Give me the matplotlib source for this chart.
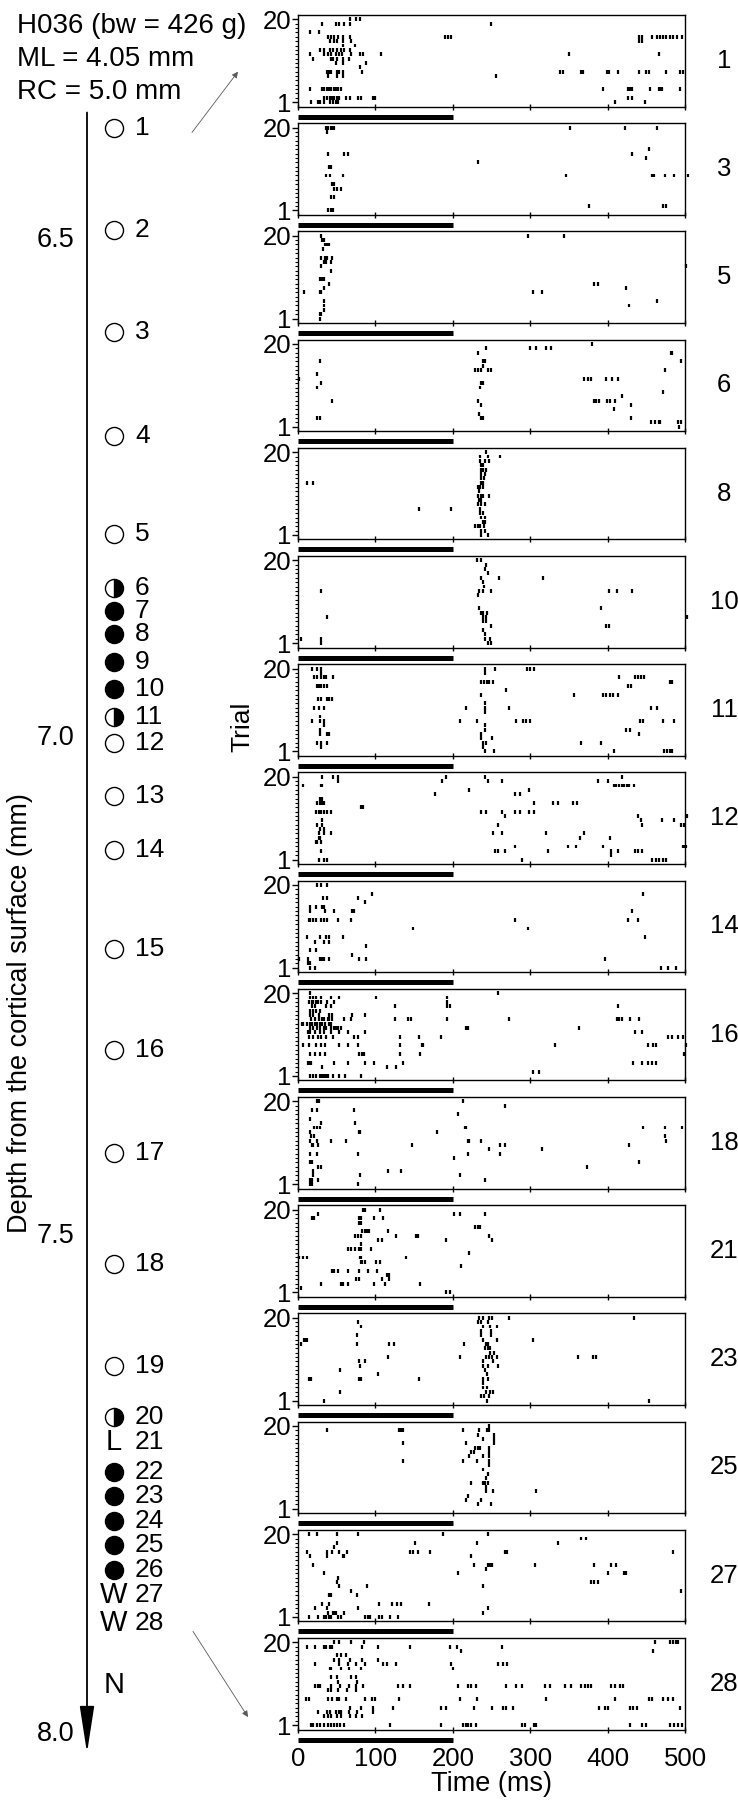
import matplotlib
matplotlib.use("Agg")
import matplotlib.pyplot as plt

plt.rcParams["font.family"] = ["Liberation Sans", "DejaVu Sans"]

# ---- recording track (left column) ----
header_lines = ["H036 (bw = 426 g)", "ML = 4.05 mm", "RC = 5.0 mm"]
depth_ticks = [6.5, 7.0, 7.5, 8.0]
depth_label = "Depth from the cortical surface (mm)"
track_top, track_end = 6.372, 8.019

site_numbers = list(range(1, 29))
site_depths = [6.388, 6.490, 6.592, 6.697, 6.795, 6.849, 6.872, 6.896, 6.924, 6.951,
               6.979, 7.005, 7.058, 7.112, 7.212, 7.313, 7.417, 7.528, 7.631, 7.682,
               7.707, 7.737, 7.761, 7.786, 7.810, 7.835, 7.860, 7.889]
site_kinds = ["open"] * 5 + ["half", "fill", "fill", "fill", "fill", "half"] + \
             ["open"] * 8 + ["half", "L", "fill", "fill", "fill", "fill", "fill", "W", "W"]
end_mark, end_depth = "N", 7.951

# ---- rasters: trial -> spike times (ms) ----
raster_sites = [1, 3, 5, 6, 8, 10, 11, 12, 14, 16, 18, 21, 23, 25, 27, 28]
stim_on, stim_off = 0, 200
n_trials = 20

site01 = {20: [67, 75, 80], 19: [31, 49, 53, 60, 67, 249], 17: [15, 27],
          16: [39, 42, 46, 52, 58, 67, 190, 194, 198, 441, 445, 457, 464, 468, 472, 476, 481, 485, 490, 496],
          15: [41, 47, 50, 58, 69, 441, 445], 14: [58, 73],
          13: [29, 34, 41, 45, 50, 55, 59, 67],
          12: [15, 34, 39, 43, 49, 53, 57, 69, 80, 84, 107, 350, 466],
          11: [19, 43, 45, 50, 58, 66], 10: [49, 58, 88], 9: [80],
          8: [37, 40, 43, 50, 53, 58, 83, 338, 343, 366, 368, 399, 402, 413, 440, 450, 453, 476, 493, 497],
          7: [39, 50, 58, 256],
          4: [15, 31, 34, 37, 40, 43, 46, 49, 52, 56, 394, 427, 429, 432, 455, 466, 468, 470, 493],
          2: [34, 37, 41, 44, 47, 50, 53, 62, 67, 78, 82, 97, 99, 427, 431],
          1: [17, 26, 29, 34, 41, 45, 49, 52, 409, 448]}
site03 = {20: [36, 39, 43, 45, 47, 352, 422, 464], 19: [37], 15: [453], 14: [39, 59, 65, 432],
          13: [450], 12: [233], 11: [40, 42], 9: [36, 41, 58, 346, 457, 460, 474, 486, 504],
          7: [44, 47], 6: [46, 50, 55], 4: [43, 47], 2: [376, 472, 475], 1: [39, 42, 45]}
site05 = {20: [30, 297, 344], 19: [31, 33], 18: [35, 37, 39, 40], 17: [32], 15: [30, 35, 38, 44],
          14: [33, 36, 42], 13: [30, 501], 12: [42], 10: [28, 31, 34], 9: [40, 383, 388],
          8: [33, 424], 7: [8, 28, 30, 303, 315], 5: [33, 464], 4: [33, 428], 3: [33],
          2: [28, 30], 1: [28]}
site06 = {20: [380], 19: [243, 300, 307, 321, 327], 18: [233, 482, 483], 16: [28, 239, 242, 495],
          15: [239], 14: [229, 233, 236, 246, 249, 474], 13: [24],
          12: [1, 370, 375, 379, 398, 406, 413], 11: [30, 237, 239], 10: [24, 235], 9: [472],
          8: [418], 7: [44, 233, 382, 385, 389, 399, 403, 409], 6: [236, 430], 5: [408],
          4: [234], 3: [24, 28, 237, 239, 430], 2: [456, 461, 466, 468, 491, 495], 1: [492]}
site08 = {20: [243], 19: [235, 246, 261], 18: [235, 242, 247], 17: [236, 239], 16: [236, 239, 243],
          15: [237, 242], 14: [237, 240], 13: [12, 20, 237, 239], 12: [232, 235, 239], 11: [234],
          10: [232, 236, 239, 247], 9: [234, 237], 8: [232, 237, 242], 7: [156, 198, 235],
          6: [235, 239], 5: [237, 241], 4: [239, 241], 3: [229, 232, 235, 240], 2: [237, 242],
          1: [237, 246]}
site10 = {20: [231, 236], 19: [243], 18: [242], 17: [245], 16: [237, 260, 317], 15: [239], 14: [240],
          13: [30, 234, 239, 249, 402, 412, 432], 12: [233], 9: [234, 391], 8: [237, 239, 244],
          7: [38, 239, 243, 503], 6: [239, 243], 5: [249, 398, 402], 4: [239], 3: [241],
          2: [4, 30, 242, 248], 1: [30, 246, 249]}
site11 = {20: [18, 24, 30, 241, 255, 296, 300, 305], 19: [30, 241],
          18: [21, 24, 30, 33, 36, 45, 415, 435, 439, 443, 447],
          17: [237, 240, 244, 247, 252, 480, 483], 16: [24, 27, 30, 33, 37, 426, 430], 15: [269],
          14: [236, 356, 394, 398, 403, 407, 413], 13: [26, 30, 37, 40, 44], 12: [241],
          11: [21, 27, 33, 217, 241, 273, 456, 464], 10: [241], 9: [28],
          8: [18, 29, 33, 209, 231, 282, 291, 295, 300, 442, 446, 472, 486], 7: [33, 241],
          6: [28, 242, 424, 429], 5: [29, 38, 40, 236, 440], 4: [237, 250],
          3: [24, 30, 38, 239, 243, 366, 391], 2: [30, 239], 1: [241, 253, 408, 473, 477, 481, 483]}
site12 = {20: [31, 45, 52, 191, 241, 418], 19: [52, 186, 245, 263, 388, 400],
          18: [6, 30, 31, 408, 411, 415, 418, 421, 425, 428, 434], 17: [221, 299], 16: [177, 280, 287],
          15: [29, 31], 14: [25, 29, 31, 33, 305, 330, 336, 355, 361], 13: [81, 84],
          12: [23, 27, 30, 33, 38, 42, 237, 243, 263, 280, 287, 299, 305], 11: [267, 439, 503],
          10: [31, 443, 470, 486], 9: [25, 31, 259, 445, 495, 499], 8: [29, 33],
          7: [27, 33, 42, 252, 263, 320, 370], 6: [27, 29, 364, 403], 5: [23, 25, 30],
          4: [280, 349, 359, 394, 497, 499, 501], 3: [30, 255, 259, 267, 323, 405, 413, 435, 439, 445],
          2: [404], 1: [27, 33, 37, 289, 458, 463, 467, 471, 476]}
site14 = {20: [25, 30, 37], 18: [95, 446], 17: [32, 37, 77], 16: [86], 15: [15, 23, 31, 34],
          14: [16, 35, 46, 70, 72, 431], 12: [14, 16, 19, 23, 30, 34, 37, 52, 68, 280, 427, 439],
          10: [148, 297], 8: [12, 28, 36, 40, 58, 448], 7: [22, 33, 40], 6: [88], 5: [16, 23],
          4: [70], 3: [1, 13, 28, 31, 34, 40, 79, 88, 396], 2: [13, 15], 1: [16, 22, 469, 478, 488]}
site16 = {20: [16, 258], 19: [15, 19, 23, 30, 43, 53, 101, 192],
          18: [14, 18, 20, 23, 26, 30, 37, 46, 192], 17: [18, 22, 36, 42, 125, 192, 197, 413],
          16: [16, 19, 23, 29], 15: [15, 20, 27, 40, 44, 70, 86],
          14: [17, 22, 27, 31, 34, 39, 40, 44, 59, 68, 125, 142, 146, 192, 273, 412, 415, 418, 429, 440],
          13: [5, 7, 12, 15, 18, 22, 25, 28, 31, 35, 40, 43],
          12: [15, 19, 25, 28, 33, 36, 42, 46, 49, 52, 55, 217, 220, 363],
          11: [13, 16, 22, 29, 34, 42, 53, 65, 86, 435, 444],
          10: [14, 19, 26, 30, 36, 45, 72, 77, 132, 156, 185, 478, 483, 491, 498],
          8: [7, 14, 23, 30, 35, 53, 65, 77, 132, 160, 162, 332, 452, 459, 462, 501],
          6: [15, 22, 29, 35, 79, 83, 85, 132, 157, 499],
          4: [13, 15, 17, 46, 65, 86, 98, 136, 433, 444, 452, 458, 462], 3: [31, 115, 126],
          2: [304, 311], 1: [15, 19, 23, 28, 31, 34, 36, 39, 45, 53, 61, 82]}
site18 = {20: [24, 27, 213], 19: [267], 18: [18, 24, 72], 17: [207], 16: [16], 15: [30, 74],
          14: [21, 25, 29, 216, 217, 446, 474, 496], 13: [16, 79, 80, 179], 12: [17, 21, 474],
          11: [16, 24, 42, 62, 220, 221, 237, 476], 10: [18, 20, 26, 147, 261, 267, 428],
          9: [247, 315], 8: [16, 24, 78, 219, 261], 7: [201], 6: [16, 18, 440], 5: [26, 30, 374],
          4: [20, 116, 133], 3: [20, 80, 209], 2: [15, 17, 18, 26, 241], 1: [15, 17, 18, 78]}
site21 = {20: [84, 87, 106], 19: [26, 201, 209, 241], 18: [18, 21, 79, 81, 98, 110], 17: [79, 81],
          16: [229, 232, 235], 15: [83, 86, 89, 92, 116], 14: [74, 77, 81, 126, 152, 155, 247],
          13: [104, 109, 191, 250], 12: [81], 11: [64, 68, 74, 79, 82, 94], 10: [221],
          9: [1, 6, 12, 80, 82, 140], 8: [81, 83, 87, 101, 106], 7: [211],
          6: [44, 47, 52, 64, 79, 90, 102], 5: [115, 118], 4: [75, 79, 109, 117],
          3: [30, 56, 58, 64, 98, 112, 157], 2: [4], 1: [191, 197]}
site23 = {20: [234, 239, 247, 250, 273, 434], 19: [77, 233, 237, 246], 18: [81, 239, 248, 257],
          17: [237, 249], 16: [76, 237, 249], 15: [8, 10, 12, 239, 257, 303],
          14: [4, 76, 118, 124, 215, 243, 245], 13: [242, 245, 248], 12: [248, 253],
          11: [116, 209, 243, 247, 250, 257, 362, 381, 385], 10: [79, 86, 239, 252],
          9: [80, 239, 245, 259], 8: [54, 242], 7: [103, 244], 6: [14, 17, 79, 82, 156, 239, 246],
          5: [239], 4: [239, 244], 3: [54, 243, 248, 252], 2: [237, 240, 247], 1: [34, 244, 454]}
site25 = {20: [247], 19: [38, 131, 133, 136, 213, 234, 244, 247], 18: [233, 253], 17: [239, 253],
          16: [136, 217, 253], 15: [229, 232, 235, 247], 14: [224, 227, 247], 13: [221, 239, 247],
          12: [136, 213, 231, 247], 11: [247], 10: [239], 9: [245], 8: [243],
          7: [223, 239, 242, 245], 6: [243], 5: [243, 252, 308], 4: [219], 3: [217, 237],
          2: [233, 249]}
site27 = {20: [14, 24, 50, 77, 187, 245], 19: [366, 372], 18: [50, 151, 231, 336], 17: [46],
          16: [12, 37, 44, 53, 63, 145, 148, 155, 171, 267, 270, 485], 15: [16, 37, 58, 60, 224],
          13: [19, 227, 245, 248, 250, 306, 383, 404, 411], 12: [243], 11: [33, 207, 400, 421, 424],
          10: [52], 9: [50, 378, 383, 388], 8: [53, 89, 239], 7: [69, 495], 6: [40, 43, 76],
          4: [31, 40, 105, 121, 128, 133, 169], 3: [22, 37, 77, 245], 2: [39, 45, 47, 49, 59, 239],
          1: [14, 26, 33, 36, 40, 42, 52, 55, 87, 90, 93, 105, 109, 119, 129]}
site28 = {20: [47, 53, 69, 85, 461, 481, 484, 488, 491],
          19: [11, 22, 33, 36, 41, 44, 83, 103, 145, 196, 205, 263], 18: [210, 459], 17: [50, 56, 62],
          16: [47, 53, 67, 83, 103], 15: [22, 53, 65, 75, 87, 110, 115, 127, 198, 259, 265, 270],
          14: [41, 43, 55, 66, 81, 200], 12: [43, 50, 68, 75], 11: [52, 76],
          10: [22, 26, 29, 43, 54, 66, 75, 84, 129, 136, 145, 207, 220, 224, 230, 269, 282, 289,
               319, 325, 345, 353, 366, 371, 375, 378, 405, 409, 416, 420],
          9: [39, 43, 52, 63, 75],
          7: [10, 14, 39, 44, 50, 53, 62, 86, 96, 99, 131, 209, 231, 320, 409, 453, 457, 472, 478, 484],
          5: [67, 81, 97, 123, 185, 191, 227, 250, 265, 269, 278, 389, 397, 401, 429, 433, 438, 493],
          4: [26, 37, 41, 49, 53, 56, 66, 76, 97], 3: [34, 39, 43, 50, 56, 67, 75, 83],
          1: [17, 19, 24, 28, 34, 39, 43, 47, 50, 54, 60, 119, 185, 213, 217, 220, 224, 230, 290,
              293, 305, 307, 429, 445, 450, 481, 486, 491, 496]}
rasters = [site01, site03, site05, site06, site08, site10, site11, site12, site14, site16,
           site18, site21, site23, site25, site27, site28]

time_ticks = [0, 100, 200, 300, 400, 500]

W, H = 738, 1800
fig = plt.figure(figsize=(W / 100, H / 100), dpi=100)

# left column: x in pixels, y in depth (mm)
px_per_mm = 996.0
d0_px = 240.0
left = fig.add_axes([0, 0, 295 / W, 1])
left.set_xlim(0, 295)
left.set_ylim(6.5 + (H - d0_px) / px_per_mm, 6.5 - d0_px / px_per_mm)
left.axis("off")

for i, line in enumerate(header_lines):
    fig.text(17 / W, 1 - (26 + 33 * i) / H, line, fontsize=20, ha="left", va="center")

left.annotate("", xy=(87, track_end), xytext=(87, track_top),
              arrowprops=dict(arrowstyle="-|>,head_length=2.9,head_width=0.45",
                              mutation_scale=10, lw=1.3, color="k", shrinkA=0, shrinkB=0))
for d in depth_ticks:
    left.text(74, d, f"{d:.1f}", fontsize=19.5, ha="right", va="center")
left.text(20, 6.5 + (1013 - d0_px) / px_per_mm, depth_label, fontsize=19.5,
          rotation=90, ha="center", va="center")

for n, d, kind in zip(site_numbers, site_depths, site_kinds):
    if kind in ("W", "L"):
        left.text(114, d, kind, fontsize=21, ha="center", va="center")
    elif kind == "open":
        left.plot(114, d, "o", ms=13, mfc="white", mec="k", mew=1.0)
    elif kind == "fill":
        left.plot(114, d, "o", ms=13, mfc="k", mec="k", mew=1.0)
    else:
        left.plot(114, d, "o", ms=13, fillstyle="right", mfc="k", mfcalt="white",
                  mec="k", mew=1.0)
    left.text(135, d, str(n), fontsize=19, ha="left", va="center")
left.text(114, end_depth, end_mark, fontsize=21, ha="center", va="center")

# pointer arrows from track to first / last raster
arrow_kw = dict(arrowstyle="-|>", mutation_scale=9, lw=0.6, color="0.35", shrinkA=0, shrinkB=0)
left.annotate("", xy=(238, site_depths[0] - 0.057), xytext=(192, site_depths[0] + 0.004),
              arrowprops=arrow_kw)
left.annotate("", xy=(248, site_depths[-1] + 0.094), xytext=(193, site_depths[-1] + 0.008),
              arrowprops=arrow_kw)

fig.text(242 / W, 1 - 727 / H, "Trial", fontsize=19, rotation=90, ha="center", va="center")

# raster panels
p_left, p_width = 298 / W, 387 / W
p_top0, p_pitch, p_h = 15.0, 108.2, 91.5
for k, (site, spikes) in enumerate(zip(raster_sites, rasters)):
    top = p_top0 + k * p_pitch
    ax = fig.add_axes([p_left, 1 - (top + p_h) / H, p_width, p_h / H])
    for trial, times in spikes.items():
        ax.vlines(times, trial - 0.45, trial + 0.45, color="k", lw=1.6, clip_on=False)
    ax.set_xlim(0, 500)
    ax.set_ylim(0, n_trials + 1)
    ax.plot([stim_on, stim_off], [-2.3, -2.3], color="k", lw=3.6,
            solid_capstyle="butt", clip_on=False)
    for s in ax.spines.values():
        s.set_linewidth(1.0)
    ax.set_yticks([1, n_trials])
    ax.set_yticklabels(["1", str(n_trials)], fontsize=18.5)
    ax.set_yticks(range(1, n_trials + 1), minor=True)
    ax.tick_params(axis="y", which="major", direction="out", length=4, width=1.0, pad=1)
    ax.tick_params(axis="y", which="minor", direction="out", length=2.5, width=0.8)
    ax.set_xticks(time_ticks)
    ax.tick_params(axis="x", which="major", direction="inout", length=5, width=1.0,
                   labelsize=18.5, pad=10)
    if k < len(raster_sites) - 1:
        ax.set_xticklabels([])
    else:
        fig.text(p_left + p_width / 2, 1 - 1784 / H, "Time (ms)", fontsize=19.5,
                 ha="center", va="center")
    ax.text(1.101, 0.5, str(site), transform=ax.transAxes, fontsize=18.5,
            ha="center", va="center")

fig.savefig("out.png", dpi=100)
